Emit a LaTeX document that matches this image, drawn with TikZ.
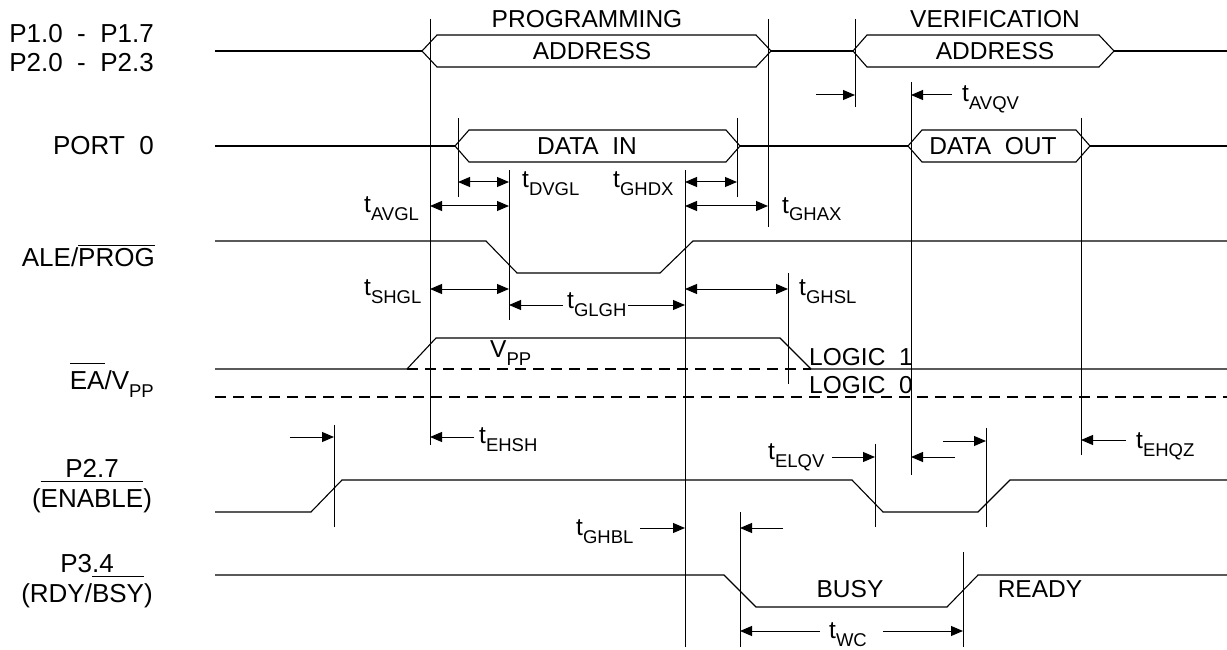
\documentclass[tikz,border=0pt]{standalone}
\usepackage{fontspec}
\setmainfont{Liberation Sans}
\usetikzlibrary{arrows.meta}

\newcommand{\tsub}[1]{t\raisebox{-8pt}{\fontsize{18.5}{18.5}\selectfont #1}}
\newcommand{\vsub}[1]{V\raisebox{-8pt}{\fontsize{18.5}{18.5}\selectfont #1}}
\newcommand{\ovl}[2][2pt]{\leavevmode\vbox{\hrule height 1pt\kern#1\hbox{#2}}}

\begin{document}
\begin{tikzpicture}
            [x=1pt, y=-1pt,
            lbl/.style={inner sep=0pt, font=\fontsize{24.5}{29}\selectfont},
            signame/.style={inner sep=0pt, font=\fontsize{26}{30}\selectfont},
            wave/.style={line width=1.1pt, black, line join=miter},
            level/.style={line width=1.1pt, black, dash pattern=on 11pt off 7pt},
            vline/.style={line width=0.8pt, black},
            span/.style={line width=1pt, {Triangle[length=12pt,width=10pt]}-{Triangle[length=12pt,width=10pt]}},
            ray/.style={line width=1pt, -{Triangle[length=12pt,width=10pt]}}]

            \useasboundingbox (0,0) rectangle (1227,650);

            % Signal names
            \node[signame, anchor=base east] (p1) at (154,43) {P1.0\ \ -\ \ P1.7};
            \node[signame, anchor=base east] (p2) at (154,72) {P2.0\ \ -\ \ P2.3};
            \node[signame, anchor=base east] (port) at (154,155) {PORT\ \ 0};
            \node[signame, anchor=base east] (ale) at (155,266) {ALE/\ovl[2pt]{PROG}};
            \node[signame, anchor=base east] (ea) at (154,389) {\ovl[7pt]{EA}/\vsub{PP}};
            \node[signame, anchor=base] (p27) at (92,477) {P2.7};
            \node[signame, anchor=base] (enable) at (92,507) {(\ovl[7pt]{ENABLE})};
            \node[signame, anchor=base] (p34) at (87,572) {P3.4};
            \node[signame, anchor=base] (rdy) at (87,602) {(RDY/\ovl[7pt]{BSY})};

            % Address bus
            \draw[wave] (215,51) -- (422,51);
            \draw[wave] (422,51) -- (437,35) -- (756,35) -- (771,51) -- (756,67) -- (437,67) -- cycle;
            \draw[wave] (771,51) -- (853,51);
            \draw[wave] (853,51) -- (867,35) -- (1099,35) -- (1114,51) -- (1099,67) -- (867,67) -- cycle;
            \draw[wave] (1114,51) -- (1227,51);
            \node[lbl, anchor=base] (prog) at (587,28) {PROGRAMMING};
            \node[lbl, anchor=base] (padr) at (592,60) {ADDRESS};
            \node[lbl, anchor=base] (verif) at (995,28) {VERIFICATION};
            \node[lbl, anchor=base] (vadr) at (995,60) {ADDRESS};

            % Port 0
            \draw[wave] (215,146) -- (455,146);
            \draw[wave] (455,146) -- (469,130) -- (726,130) -- (740,146) -- (726,162) -- (469,162) -- cycle;
            \draw[wave] (740,146) -- (908,146);
            \draw[wave] (908,146) -- (922,130) -- (1076,130) -- (1090,146) -- (1076,162) -- (922,162) -- cycle;
            \draw[wave] (1090,146) -- (1227,146);
            \node[lbl, anchor=base] (din) at (587,155) {DATA\ \ IN};
            \node[lbl, anchor=base] (dout) at (993,155) {DATA\ \ OUT};

            % ALE/PROG, EA/VPP, ENABLE, RDY/BSY
            \draw[wave] (215,241) -- (486,241) -- (517,273) -- (660,273) -- (693,241) -- (1227,241);
            \draw[wave] (215,369) -- (407,369) -- (436,338) -- (780,338) -- (811,369) -- (1227,369);
            \draw[level] (407,369) -- (811,369);
            \draw[level] (215,397) -- (1227,397);
            \draw[wave] (215,512) -- (311,512) -- (342,480) -- (852,480) -- (883,512) -- (978,512) -- (1010,480) -- (1227,480);
            \draw[wave] (215,575) -- (724,575) -- (756,607) -- (947,607) -- (978,575) -- (1227,575);
            \node[lbl, anchor=base west] (vpp) at (490,357) {\vsub{PP}};
            \node[lbl, anchor=base west] (one) at (809,365) {LOGIC\ \ 1};
            \node[lbl, anchor=base west] (zero) at (809,393) {LOGIC\ \ 0};
            \node[lbl, anchor=base] (busy) at (850,597) {BUSY};
            \node[lbl, anchor=base] (ready) at (1040,597) {READY};

            % Reference lines
            \coordinate (a) at (430,0);
            \coordinate (d) at (458,0);
            \coordinate (l) at (509,0);
            \coordinate (h) at (685,0);
            \coordinate (x) at (737,0);
            \coordinate (g) at (768,0);
            \coordinate (s) at (788,0);
            \coordinate (v) at (855,0);
            \coordinate (q) at (911,0);
            \coordinate (z) at (1081,0);
            \coordinate (e) at (334,0);
            \coordinate (el) at (875,0);
            \coordinate (eh) at (986,0);
            \coordinate (b) at (740,0);
            \coordinate (r) at (963,0);

            \draw[vline] (a |- 0,19) -- (a |- 0,445);
            \draw[vline] (d |- 0,118) -- (d |- 0,197);
            \draw[vline] (l |- 0,170) -- (l |- 0,320);
            \draw[vline] (h |- 0,170) -- (h |- 0,647);
            \draw[vline] (x |- 0,118) -- (x |- 0,197);
            \draw[vline] (g |- 0,19) -- (g |- 0,227);
            \draw[vline] (s |- 0,273) -- (s |- 0,384);
            \draw[vline] (v |- 0,19) -- (v |- 0,107);
            \draw[vline] (q |- 0,82) -- (q |- 0,475);
            \draw[vline] (z |- 0,118) -- (z |- 0,455);
            \draw[vline] (e |- 0,425) -- (e |- 0,527);
            \draw[vline] (el |- 0,444) -- (el |- 0,527);
            \draw[vline] (eh |- 0,428) -- (eh |- 0,527);
            \draw[vline] (b |- 0,512) -- (b |- 0,647);
            \draw[vline] (r |- 0,552) -- (r |- 0,647);

            % Timing arrows
            \draw[span] (d |- 0,182) -- (l |- 0,182);
            \draw[span] (a |- 0,206) -- (l |- 0,206);
            \draw[span] (h |- 0,182) -- (x |- 0,182);
            \draw[span] (h |- 0,206) -- (g |- 0,206);
            \draw[span] (a |- 0,289) -- (l |- 0,289);
            \draw[ray] (563,305) -- (l |- 0,305);
            \draw[ray] (628,305) -- (h |- 0,305);
            \draw[span] (h |- 0,289) -- (s |- 0,289);
            \draw[ray] (816,95) -- (v |- 0,95);
            \draw[ray] (952,95) -- (q |- 0,95);
            \draw[ray] (474,437) -- (a |- 0,437);
            \draw[ray] (290,437) -- (e |- 0,437);
            \draw[ray] (832,457) -- (el |- 0,457);
            \draw[ray] (955,457) -- (q |- 0,457);
            \draw[ray] (943,441) -- (eh |- 0,441);
            \draw[ray] (1126,440) -- (z |- 0,440);
            \draw[ray] (640,528) -- (h |- 0,528);
            \draw[ray] (783,528) -- (b |- 0,528);
            \draw[ray] (820,631) -- (b |- 0,631);
            \draw[ray] (883,631) -- (r |- 0,631);

            % Timing labels
            \node[lbl, anchor=base west] (tdvgl) at (522,188) {\tsub{DVGL}};
            \node[lbl, anchor=base west] (tghdx) at (613,188) {\tsub{GHDX}};
            \node[lbl, anchor=base west] (tavgl) at (364,212) {\tsub{AVGL}};
            \node[lbl, anchor=base west] (tghax) at (782,213) {\tsub{GHAX}};
            \node[lbl, anchor=base west] (tshgl) at (364,295) {\tsub{SHGL}};
            \node[lbl, anchor=base west] (tglgh) at (567,308) {\tsub{GLGH}};
            \node[lbl, anchor=base west] (tghsl) at (799,295) {\tsub{GHSL}};
            \node[lbl, anchor=base west] (tavqv) at (962,102) {\tsub{AVQV}};
            \node[lbl, anchor=base west] (tehsh) at (479,443) {\tsub{EHSH}};
            \node[lbl, anchor=base west] (telqv) at (768,459) {\tsub{ELQV}};
            \node[lbl, anchor=base west] (tehqz) at (1136,448) {\tsub{EHQZ}};
            \node[lbl, anchor=base west] (tghbl) at (576,535) {\tsub{GHBL}};
            \node[lbl, anchor=base west] (twc) at (829,638) {\tsub{WC}};

        \end{tikzpicture}
\end{document}
